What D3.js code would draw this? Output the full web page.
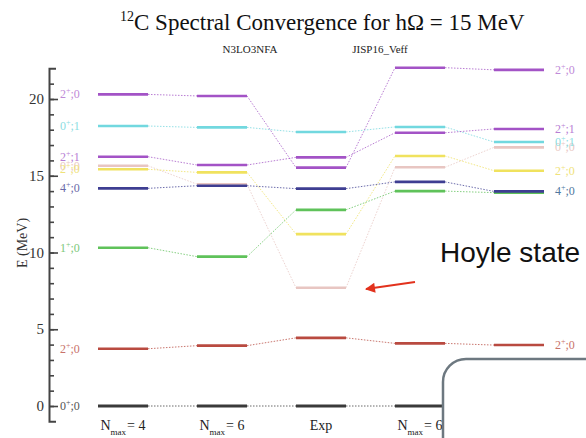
<!DOCTYPE html>
<html>
<head>
<meta charset="utf-8">
<script src="https://cdn.jsdelivr.net/npm/d3@7"></script>
<style>
  body { margin: 0; background: #fff; }
</style>
</head>
<body>
<svg id="chart" width="586" height="438"></svg>
<script>
// column headers (x axis)
const columns = ["N4", "N6", "Exp", "J6", "J4"];
const columnLabels = [["N", "max", "= 4"], ["N", "max", "= 6"], ["Exp"], ["N", "max", "= 6"], ["N", "max", "= 4"]];

// level energies (MeV), one value per column
const gs00 = [0, 0, 0, 0, 0];
const lvl2p0a = [3.73, 3.93, 4.44, 4.08, 3.97];
const hoyle0p0 = [15.65, 14.45, 7.7, 15.55, 16.85];
const lvl2p0b = [15.42, 15.22, 11.2, 16.29, 15.33];
const lvl1p0 = [10.31, 9.73, 12.78, 14.0, 13.9];
const lvl4p0 = [14.18, 14.35, 14.16, 14.6, 13.98];
const lvl0p1 = [18.24, 18.15, 17.85, 18.18, 17.2];
const lvl2p1 = [16.24, 15.7, 16.2, 17.8, 18.05];
const lvl2p0c = [20.3, 20.2, 15.53, 22.04, 21.9];

// spin/isospin labels for each state
const stateNames = ["0+;0", "2+;0", "0+;0", "2+;0", "1+;0", "4+;0", "0+;1", "2+;1", "2+;0"];
const stateValues = [gs00, lvl2p0a, hoyle0p0, lvl2p0b, lvl1p0, lvl4p0, lvl0p1, lvl2p1, lvl2p0c];
const stateColors = ["#3a3a3a", "#b94a40", "#e8c6c2", "#f0e25e", "#5fc25a", "#3e3e92", "#72d8df", "#a353c6", "#a353c6"];
const labelColors = ["#555", "#c8726a", "#e9c8c4", "#efe27a", "#7cc87a", "#6a6aa8", "#8cdde2", "#b77ed4", "#c08ad8"];
const showLeft = [true, true, true, true, true, true, true, true, true];
const showRight = [false, true, true, true, false, true, true, true, true];
const rightLabelColors = [null, "#c8726a", "#e9c8c4", "#efe27a", null, "#4f77a0", "#8cdde2", "#b77ed4", "#c08ad8"];

const yMajor = [0, 5, 10, 15, 20];

const serif = "'Liberation Serif', 'DejaVu Serif', serif";
const svg = d3.select("#chart").attr("font-family", serif);

const y = d3.scaleLinear().domain([0, 20]).range([406, 99]);
const x = d3.scalePoint().domain(columns).range([123, 519]);
const half = 25;

// title
const title = svg.append("text")
  .attr("x", 120).attr("y", 30)
  .attr("font-family", serif)
  .attr("font-size", 23).attr("fill", "#111");
title.append("tspan").attr("font-size", 14).attr("dy", -9).text("12");
title.append("tspan").attr("dy", 9).text("C Spectral Convergence for hΩ = 15 MeV");

svg.append("text").attr("x", 250).attr("y", 53).attr("text-anchor", "middle")
  .attr("font-family", serif)
  .attr("font-size", 11).attr("fill", "#222").text("N3LO3NFA");
svg.append("text").attr("x", 380).attr("y", 53).attr("text-anchor", "middle")
  .attr("font-family", serif)
  .attr("font-size", 11).attr("fill", "#222").text("JISP16_Veff");

// y axis
const axisY = y.copy().domain([-1, 22]).range([y(-1), y(22)]);
const axisG = svg.append("g").attr("transform", "translate(49,0)");
axisG.call(d3.axisRight(axisY).tickValues(d3.range(0, 22)).tickSize(5).tickSizeOuter(7).tickFormat(""));
axisG.append("g").call(d3.axisRight(axisY).tickValues(yMajor).tickSize(9).tickSizeOuter(0).tickFormat(""))
  .select(".domain").remove();
axisG.selectAll("path, line").attr("stroke", "#444").attr("stroke-width", 1.6);
axisG.select(".domain").attr("stroke-width", 2);

svg.append("g").selectAll("text").data(yMajor).join("text")
  .attr("x", 44).attr("y", d => y(d) + 5)
  .attr("font-family", serif)
  .attr("text-anchor", "end").attr("font-size", 15).attr("fill", "#333")
  .text(d => d);

svg.append("text")
  .attr("transform", "translate(27,243) rotate(-90)")
  .attr("font-family", serif)
  .attr("text-anchor", "middle").attr("font-size", 14).attr("fill", "#333")
  .text("E (MeV)");

// connectors and levels
const levels = svg.append("g");
stateValues.forEach((vals, i) => {
  const col = stateColors[i];
  for (let c = 0; c < columns.length - 1; c++) {
    levels.append("line")
      .attr("x1", x(columns[c]) + half).attr("y1", y(vals[c]))
      .attr("x2", x(columns[c + 1]) - half).attr("y2", y(vals[c + 1]))
      .attr("stroke", col).attr("stroke-width", 1)
      .attr("stroke-dasharray", "1.5,1.5").attr("opacity", 0.75);
  }
  levels.append("g").selectAll("line").data(vals).join("line")
    .attr("x1", (d, c) => x(columns[c]) - half)
    .attr("x2", (d, c) => x(columns[c]) + half)
    .attr("y1", d => y(d)).attr("y2", d => y(d))
    .attr("stroke", col).attr("stroke-width", i === 0 ? 3 : 2.6);
});

// state labels
function stateLabel(g, name, xx, yy, color) {
  const t = g.append("text").attr("x", xx).attr("y", yy + 4)
    .attr("font-family", serif)
    .attr("font-size", 12).attr("fill", color);
  t.append("tspan").text(name[0]);
  t.append("tspan").attr("font-size", 8).attr("dy", -5).text(name[1]);
  t.append("tspan").attr("dy", 5).text(name.slice(2));
}
const labelG = svg.append("g");
stateNames.forEach((name, i) => {
  if (showLeft[i]) stateLabel(labelG, name, 60, y(stateValues[i][0]), labelColors[i]);
  if (showRight[i]) stateLabel(labelG, name, 555, y(stateValues[i][4]), rightLabelColors[i]);
});

// column labels
columns.forEach((c, i) => {
  const lab = columnLabels[i];
  const t = svg.append("text").attr("x", x(c)).attr("y", 430)
    .attr("font-family", serif)
    .attr("text-anchor", "middle").attr("font-size", 14).attr("fill", "#222");
  if (lab.length === 1) { t.text(lab[0]); return; }
  t.append("tspan").text(lab[0]);
  t.append("tspan").attr("font-size", 9).attr("dy", 5).text(lab[1]);
  t.append("tspan").attr("dy", -5).attr("dx", 1).text(lab[2]);
});

// annotation
svg.append("text").attr("x", 440).attr("y", 262)
  .attr("font-family", "'Liberation Sans', Arial, sans-serif")
  .attr("font-size", 28).attr("fill", "#111").text("Hoyle state");

svg.append("defs").append("marker")
  .attr("id", "arrow").attr("viewBox", "0 0 10 10")
  .attr("refX", 9).attr("refY", 5)
  .attr("markerWidth", 6).attr("markerHeight", 5)
  .attr("orient", "auto")
  .append("path").attr("d", "M0,0 L10,5 L0,10 z").attr("fill", "#e2321d");
svg.append("line")
  .attr("x1", 415).attr("y1", 282).attr("x2", 366).attr("y2", 289)
  .attr("stroke", "#e2321d").attr("stroke-width", 2)
  .attr("marker-end", "url(#arrow)");

// overlay box in the lower right corner
svg.append("path")
  .attr("d", "M443,460 L443,382 A23,23 0 0 1 466,359 L610,359 L610,460 Z")
  .attr("fill", "#fff").attr("stroke", "#6d7880").attr("stroke-width", 2.5);
</script>
</body>
</html>
